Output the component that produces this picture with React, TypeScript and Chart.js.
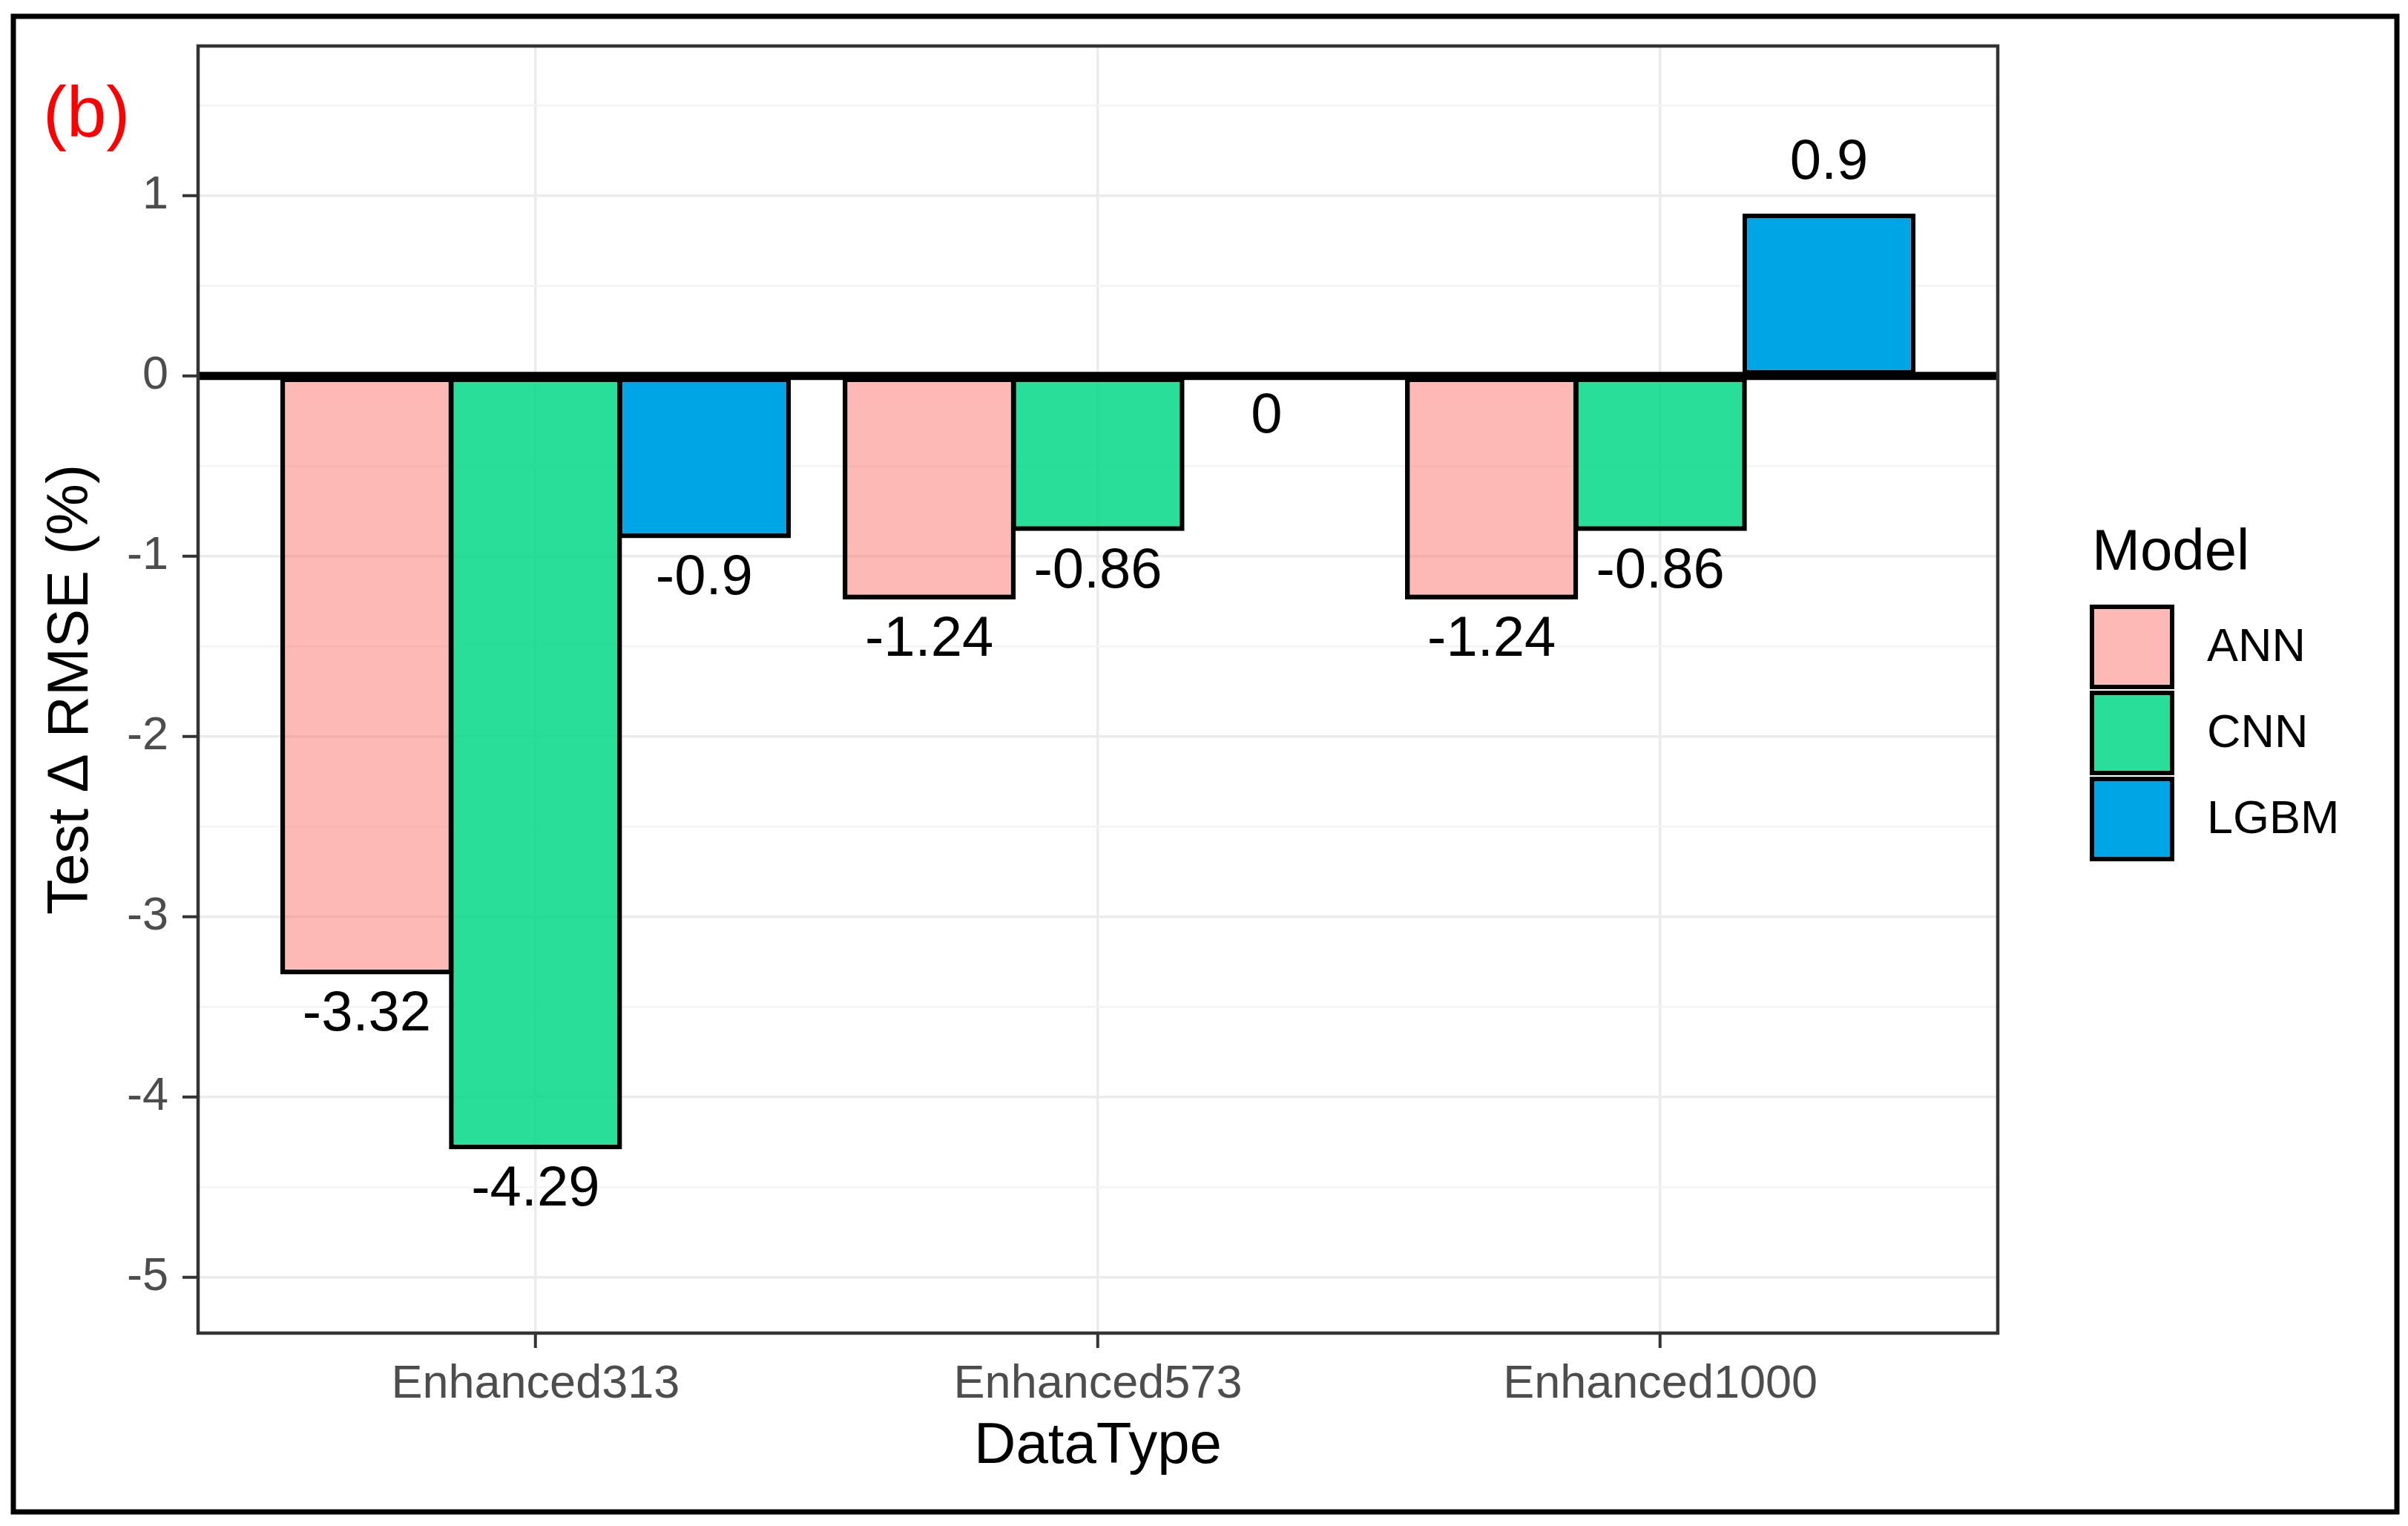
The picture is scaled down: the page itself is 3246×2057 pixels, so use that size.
import React, { useEffect, useRef } from "react";
import { Chart, registerables } from "chart.js";

Chart.register(...registerables);

// ---------- data ----------
const categories = ["Enhanced313", "Enhanced573", "Enhanced1000"];
const models = ["ANN", "CNN", "LGBM"];
const annValues = [-3.32, -1.24, -1.24];
const cnnValues = [-4.29, -0.86, -0.86];
const lgbmValues = [-0.9, 0, 0.9];
const yMajorTicks = [-5, -4, -3, -2, -1, 0, 1];
const yMinorTicks = [-4.5, -3.5, -2.5, -1.5, -0.5, 0.5, 1.5];
const yAxisTitle = "Test \u0394 RMSE (%)";
const xAxisTitle = "DataType";
const legendTitle = "Model";
const panelTag = "(b)";

// ---------- styles ----------
const W = 3246;
const H = 2057;
const FONT = "'Liberation Sans', Arial, Helvetica, sans-serif";
const fillColors = ["rgba(251,116,108,0.5)", "rgba(3,216,134,0.85)", "#00A5E6"];
const seriesValues = [annValues, cnnValues, lgbmValues];

const isMajor = (v: number) => yMajorTicks.includes(v);

const ggPlugin = {
  id: "ggDecor",
  beforeDraw(chart: any) {
    const { ctx } = chart;
    ctx.save();
    ctx.fillStyle = "#ffffff";
    ctx.fillRect(0, 0, chart.width, chart.height);
    ctx.restore();
  },
  afterDatasetsDraw(chart: any) {
    const { ctx, chartArea: a, scales } = chart;
    const ys = scales.y;
    ctx.save();
    // reference line at zero
    const y0 = ys.getPixelForValue(0);
    ctx.strokeStyle = "#000000";
    ctx.lineWidth = 11;
    ctx.beginPath();
    ctx.moveTo(a.left, y0);
    ctx.lineTo(a.right, y0);
    ctx.stroke();
    // value labels
    ctx.font = `76px ${FONT}`;
    ctx.fillStyle = "#000000";
    ctx.textAlign = "center";
    ctx.textBaseline = "middle";
    chart.data.datasets.forEach((ds: any, i: number) => {
      const meta = chart.getDatasetMeta(i);
      meta.data.forEach((el: any, j: number) => {
        const v = ds.data[j].y;
        const py = ys.getPixelForValue(v) + (v > 0 ? -68 : 55);
        ctx.fillText(String(v), el.x, py);
      });
    });
    // panel border
    ctx.strokeStyle = "#333333";
    ctx.lineWidth = 4.5;
    ctx.strokeRect(a.left, a.top, a.right - a.left, a.bottom - a.top);
    ctx.restore();
  },
  afterDraw(chart: any) {
    const { ctx } = chart;
    ctx.save();
    // legend
    const lx = 2820;
    const box = 108;
    const pitch = 116;
    const firstTop = 818;
    ctx.fillStyle = "#000000";
    ctx.font = `78px ${FONT}`;
    ctx.textAlign = "left";
    ctx.textBaseline = "alphabetic";
    ctx.fillText(legendTitle, lx, 768);
    chart.data.datasets.forEach((ds: any, i: number) => {
      const top = firstTop + i * pitch;
      ctx.fillStyle = "#ffffff";
      ctx.fillRect(lx, top, box, box);
      ctx.fillStyle = ds.backgroundColor;
      ctx.fillRect(lx, top, box, box);
      ctx.strokeStyle = "#000000";
      ctx.lineWidth = 6;
      ctx.strokeRect(lx, top, box, box);
      ctx.fillStyle = "#000000";
      ctx.font = `63px ${FONT}`;
      ctx.textBaseline = "middle";
      ctx.fillText(ds.label, 2975, top + box / 2 + 2);
    });
    // panel tag
    ctx.fillStyle = "#FF0000";
    ctx.font = `96px ${FONT}`;
    ctx.textBaseline = "alphabetic";
    ctx.fillText(panelTag, 58, 184);
    // outer frame
    ctx.strokeStyle = "#000000";
    ctx.lineWidth = 7;
    ctx.strokeRect(18, 22, 3213, 2016);
    ctx.restore();
  },
};

export default function App() {
  const ref = useRef<HTMLCanvasElement>(null);

  useEffect(() => {
    const canvas = ref.current;
    if (!canvas) return;

    const datasets = models.map((m, k) => ({
      label: m,
      data: seriesValues[k].map((v, i) => ({ x: i + 1, y: v })),
      backgroundColor: fillColors[k],
      borderColor: "#000000",
      borderWidth: 6.5,
      borderSkipped: false as any,
      categoryPercentage: 0.9,
      barPercentage: 1.026,
    }));

    const chart = new Chart(canvas, {
      type: "bar",
      data: { datasets },
      plugins: [ggPlugin],
      options: {
        responsive: false,
        animation: false,
        devicePixelRatio: 1,
        layout: { padding: { left: 36, right: W - 2693, top: 62, bottom: 50 } },
        plugins: {
          legend: { display: false },
          tooltip: { enabled: false },
        },
        scales: {
          x: {
            type: "linear",
            min: 0.4,
            max: 3.6,
            offset: false,
            afterBuildTicks: (axis: any) => {
              axis.ticks = categories.map((_, i) => ({ value: i + 1 }));
            },
            afterFit: (s: any) => {
              s.height = 210;
            },
            ticks: {
              autoSkip: false,
              maxRotation: 0,
              minRotation: 0,
              padding: 12,
              color: "#4D4D4D",
              font: { family: FONT, size: 63 },
              callback: (v: any) => categories[Math.round(Number(v)) - 1] ?? "",
            },
            grid: {
              offset: false,
              color: "#EBEBEB",
              lineWidth: 3.5,
              tickLength: 20,
              tickColor: "#333333",
              tickWidth: 4,
            },
            border: { display: false },
            title: {
              display: true,
              text: xAxisTitle,
              color: "#000000",
              font: { family: FONT, size: 78 },
              padding: { top: 0, bottom: 10 },
            },
          },
          y: {
            type: "linear",
            min: -5.31,
            max: 1.83,
            afterBuildTicks: (axis: any) => {
              axis.ticks = [...yMajorTicks, ...yMinorTicks]
                .sort((a, b) => a - b)
                .map((v) => ({ value: v }));
            },
            afterFit: (s: any) => {
              s.width = 231;
            },
            ticks: {
              autoSkip: false,
              padding: 19,
              color: "#4D4D4D",
              font: { family: FONT, size: 63 },
              callback: (v: any) => (isMajor(Number(v)) ? String(v) : ""),
            },
            grid: {
              color: (c: any) => (c.tick && isMajor(c.tick.value) ? "#EBEBEB" : "#F4F4F4"),
              lineWidth: (c: any) => (c.tick && isMajor(c.tick.value) ? 3.5 : 2.5),
              tickLength: 21,
              tickColor: (c: any) => (c.tick && isMajor(c.tick.value) ? "#333333" : "rgba(0,0,0,0)"),
              tickWidth: 4,
            },
            border: { display: false },
            title: {
              display: true,
              text: yAxisTitle,
              color: "#000000",
              font: { family: FONT, size: 78 },
              padding: { top: 14, bottom: 0 },
            },
          },
        },
      } as any,
    });

    return () => chart.destroy();
  }, []);

  return (
    <div style={{ position: "absolute", left: 0, top: 0, width: W, height: H, background: "#ffffff" }}>
      <canvas ref={ref} width={W} height={H} style={{ display: "block", width: W, height: H }} />
    </div>
  );
}
